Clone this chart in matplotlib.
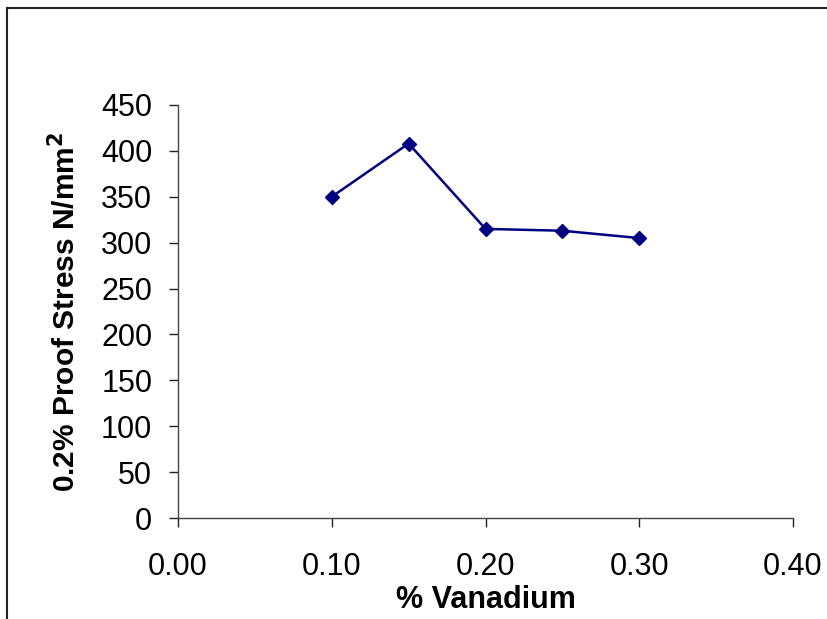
import matplotlib.pyplot as plt
import matplotlib.patches as mpatches
from matplotlib.ticker import FormatStrFormatter

vanadium = [0.10, 0.15, 0.20, 0.25, 0.30]
proof_stress = [350, 408, 315, 313, 305]

plt.rcParams['font.family'] = ['Liberation Sans', 'DejaVu Sans']

fig = plt.figure(figsize=(8.28, 6.19), dpi=100)
ax = fig.add_axes([178 / 828, 1 - 518 / 619, (793 - 178) / 828, (518 - 105) / 619])

# chart area border (runs off the right and bottom edges)
border = mpatches.Rectangle((7 / 828, -0.1), 1.2, 1.1 - 8 / 619, transform=fig.transFigure,
                            fill=False, edgecolor='#222222', linewidth=1.5)
fig.patches.append(border)

ax.plot(vanadium, proof_stress, color='#000080', linewidth=1.8,
        marker='D', markersize=7, markerfacecolor='#000080', markeredgecolor='#000080')

ax.set_xlim(0, 0.4)
ax.set_ylim(0, 450)
ax.set_xticks([0.0, 0.1, 0.2, 0.3, 0.4])
ax.set_yticks(range(0, 451, 50))
ax.xaxis.set_major_formatter(FormatStrFormatter('%.2f'))

for side in ['top', 'right']:
    ax.spines[side].set_visible(False)
for side in ['left', 'bottom']:
    ax.spines[side].set_color('#444444')
    ax.spines[side].set_linewidth(1.0)

ax.tick_params(axis='both', direction='out', length=6.5, width=1.0, color='#222222',
               labelsize=22)
ax.tick_params(axis='x', pad=18)
ax.tick_params(axis='y', pad=12)

ax.set_xlabel('% Vanadium', fontsize=22, fontweight='bold', labelpad=2)
ax.set_ylabel('0.2% Proof Stress N/mm$^{\\mathbf{2}}$', fontsize=21.5, fontweight='bold', labelpad=14)

fig.savefig('out.png', dpi=100)
